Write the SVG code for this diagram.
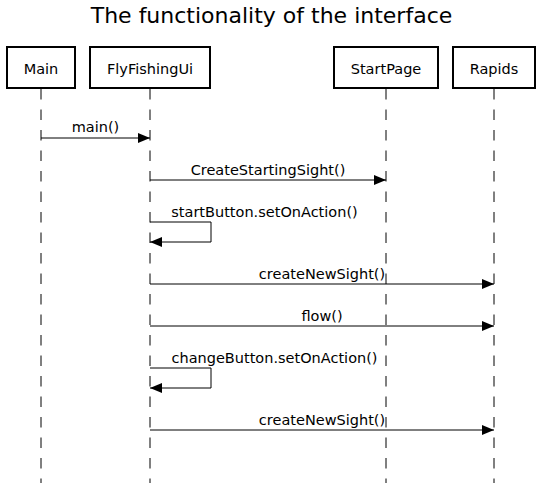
<svg xmlns="http://www.w3.org/2000/svg" width="543" height="483" viewBox="0 0 543 483">
<defs>
<style>
text{font-family:"DejaVu Sans",sans-serif;fill:#000}
.title{font-size:22px;text-anchor:middle}
.box{fill:#fff;stroke:#000;stroke-width:2}
.name{font-size:14.5px;text-anchor:middle}
.life{stroke:#000;stroke-width:1;stroke-dasharray:10.5,10;fill:none}
.msg{stroke:#000;stroke-width:1;fill:none;marker-end:url(#arr)}
.lbl{font-size:14.5px;text-anchor:middle}
</style>
<marker id="arr" viewBox="0 0 12 10" refX="12" refY="5" markerWidth="12" markerHeight="10" markerUnits="userSpaceOnUse" orient="auto">
<path d="M0,0 L12,5 L0,10 Z" fill="#000"/>
</marker>
</defs>
<rect width="543" height="483" fill="#fff"/>
<text class="title" x="271.5" y="23">The functionality of the interface</text>
<g id="lifelines">
<line class="life" x1="41" y1="89" x2="41" y2="483"/>
<line class="life" x1="150" y1="89" x2="150" y2="483"/>
<line class="life" x1="386" y1="89" x2="386" y2="483"/>
<line class="life" x1="494" y1="89" x2="494" y2="483"/>
</g>
<g id="node-main"><rect class="box" x="7" y="47" width="68" height="41"/><text class="name" x="41" y="74">Main</text></g>
<g id="node-flyfishingui"><rect class="box" x="90" y="47" width="120" height="41"/><text class="name" x="150" y="74">FlyFishingUi</text></g>
<g id="node-startpage"><rect class="box" x="334" y="47" width="104" height="41"/><text class="name" x="386" y="74">StartPage</text></g>
<g id="node-rapids"><rect class="box" x="453" y="47" width="82" height="41"/><text class="name" x="494" y="74">Rapids</text></g>
<g id="connectors">
<line class="msg" x1="41" y1="138" x2="150" y2="138"/>
<text class="lbl" x="95.5" y="132">main()</text>
<line class="msg" x1="150" y1="180" x2="386" y2="180"/>
<text class="lbl" x="268" y="174.5">CreateStartingSight()</text>
<path class="msg" d="M150,222 H211 V242 H150"/>
<text class="lbl" x="264.5" y="216.5">startButton.setOnAction()</text>
<line class="msg" x1="150" y1="284" x2="494" y2="284"/>
<text class="lbl" x="322" y="278.5">createNewSight()</text>
<line class="msg" x1="150" y1="326" x2="494" y2="326"/>
<text class="lbl" x="322" y="320.5">flow()</text>
<path class="msg" d="M150,368 H211 V388 H150"/>
<text class="lbl" x="274.5" y="362.5">changeButton.setOnAction()</text>
<line class="msg" x1="150" y1="430" x2="494" y2="430"/>
<text class="lbl" x="322" y="424.5">createNewSight()</text>
</g>
</svg>
